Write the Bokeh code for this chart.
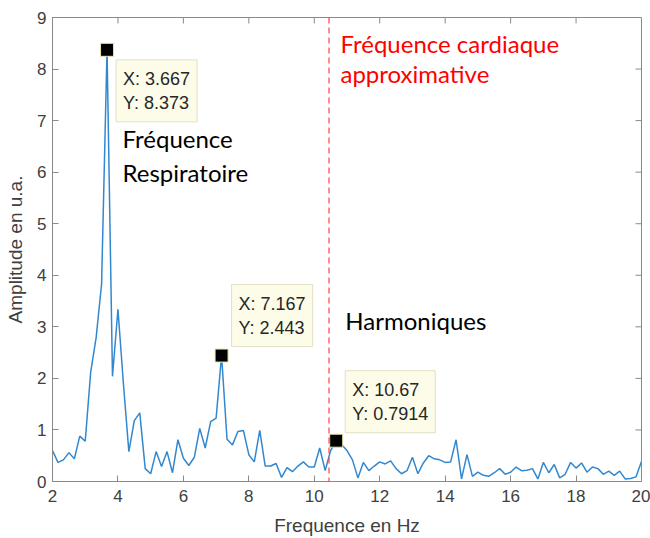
import numpy as np
from bokeh.plotting import figure
from bokeh.models import FixedTicker, Span, Label, Range1d, ColumnDataSource
from bokeh.embed import file_html
from bokeh.resources import INLINE

# ---- data ----
freq_start = 2.0
freq_bins_per_hz = 6
amplitude = [
    0.60, 0.37, 0.42, 0.56, 0.44, 0.88, 0.78, 2.12, 2.79, 3.83,
    8.373, 2.04, 3.34, 1.90, 0.58, 1.18, 1.33, 0.25, 0.15, 0.58,
    0.29, 0.58, 0.17, 0.81, 0.45, 0.31, 0.47, 1.03, 0.65, 1.16,
    1.23, 2.443, 0.82, 0.71, 0.97, 0.99, 0.52, 0.38, 0.99, 0.30,
    0.30, 0.35, 0.08, 0.27, 0.19, 0.30, 0.38, 0.28, 0.28, 0.65,
    0.21, 0.60, 0.7914, 0.72, 0.60, 0.42, 0.07, 0.37, 0.21, 0.30,
    0.38, 0.34, 0.40, 0.25, 0.15, 0.21, 0.47, 0.15, 0.36, 0.50,
    0.44, 0.42, 0.37, 0.38, 0.81, 0.05, 0.52, 0.10, 0.18, 0.12,
    0.10, 0.17, 0.25, 0.14, 0.18, 0.28, 0.21, 0.22, 0.25, 0.05,
    0.37, 0.17, 0.33, 0.07, 0.14, 0.37, 0.26, 0.36, 0.18, 0.28,
    0.25, 0.14, 0.20, 0.12, 0.20, 0.05, 0.06, 0.09, 0.39,
]
frequency = [freq_start + i / freq_bins_per_hz for i in range(len(amplitude))]

tip_x = [3.667, 7.167, 10.67]
tip_y = [8.373, 2.443, 0.7914]
tip_text = ["X: 3.667\nY: 8.373", "X: 7.167\nY: 2.443", "X: 10.67\nY: 0.7914"]

cardiac_freq = 10.45

x_min, x_max = 2, 20
y_min, y_max = 0, 9
x_ticks = [2, 4, 6, 8, 10, 12, 14, 16, 18, 20]
y_ticks = [0, 1, 2, 3, 4, 5, 6, 7, 8, 9]

# ---- figure ----
W, H = 650, 538
B_LEFT, B_RIGHT, B_TOP, B_BOTTOM = 52, 9, 17, 56
p = figure(width=W, height=H, output_backend="svg", toolbar_location=None,
           x_range=Range1d(x_min, x_max), y_range=Range1d(y_min, y_max),
           min_border_left=B_LEFT, min_border_right=B_RIGHT,
           min_border_top=B_TOP, min_border_bottom=B_BOTTOM)
p.background_fill_color = "white"
p.border_fill_color = "white"
p.xgrid.visible = False
p.ygrid.visible = False

axis_col = "#8a8a8a"
lab_col = "#404040"
font = "Liberation Sans"
p.outline_line_color = axis_col
p.outline_line_width = 1

for ax in (p.xaxis[0], p.yaxis[0]):
    ax.axis_line_color = axis_col
    ax.major_tick_line_color = axis_col
    ax.major_tick_in = 6
    ax.major_tick_out = 0
    ax.minor_tick_line_color = None
    ax.major_label_text_color = lab_col
    ax.major_label_text_font = font
    ax.major_label_text_font_size = "17px"
    ax.axis_label_text_font = font
    ax.axis_label_text_font_size = "19px"
    ax.axis_label_text_font_style = "normal"
    ax.axis_label_text_color = lab_col

p.xaxis[0].ticker = FixedTicker(ticks=x_ticks)
p.yaxis[0].ticker = FixedTicker(ticks=y_ticks)
p.xaxis[0].axis_label = "Frequence en Hz"
p.yaxis[0].axis_label = "Amplitude en u.a."
p.xaxis[0].major_label_standoff = 8
p.yaxis[0].major_label_standoff = 6
p.xaxis[0].axis_label_standoff = 10
p.yaxis[0].axis_label_standoff = 8

# inward ticks on top and right edges (MATLAB box style)
frame_w = W - B_LEFT - B_RIGHT
frame_h = H - B_TOP - B_BOTTOM
tick_px = 6
tlen_y = tick_px * (y_max - y_min) / frame_h
tlen_x = tick_px * (x_max - x_min) / frame_w
p.segment(x0=x_ticks, y0=[y_max] * len(x_ticks), x1=x_ticks,
          y1=[y_max - tlen_y] * len(x_ticks), line_color=axis_col, line_width=1)
p.segment(x0=[x_max] * len(y_ticks), y0=y_ticks, x1=[x_max - tlen_x] * len(y_ticks),
          y1=y_ticks, line_color=axis_col, line_width=1)

src = ColumnDataSource(dict(f=frequency, a=amplitude))
p.line("f", "a", source=src, line_color="#3288cf", line_width=1.5)

p.add_layout(Span(location=cardiac_freq, dimension="height", line_color="#ff4040",
                  line_dash="6 4", line_width=1.2))

tips = ColumnDataSource(dict(x=tip_x, y=tip_y))
p.scatter("x", "y", source=tips, marker="square", size=13, fill_color="black",
          line_color="#e8e6b0", line_width=1)

tip_style = dict(text_font=font, text_font_size="18px", text_color="#262626",
                 text_line_height=1.2, background_fill_color="#fcfce8",
                 border_line_color="#e2e0c4",
                 padding=dict(left=7, right=7, top=9, bottom=9))
p.add_layout(Label(x=tip_x[0], y=tip_y[0], x_offset=9, y_offset=-10, text=tip_text[0],
                   text_align="left", text_baseline="top", **tip_style))
p.add_layout(Label(x=tip_x[1], y=tip_y[1], x_offset=10, y_offset=9, text=tip_text[1],
                   text_align="left", text_baseline="bottom", **tip_style))
p.add_layout(Label(x=tip_x[2], y=tip_y[2], x_offset=9, y_offset=8, text=tip_text[2],
                   text_align="left", text_baseline="bottom", **tip_style))

ann_font = "Lato"
ann = dict(text_font=ann_font, text_font_size="24px", text_baseline="middle", text_align="left")
p.add_layout(Label(x=4.14, y=6.66, text="Fréquence", text_color="black", **ann))
p.add_layout(Label(x=4.14, y=6.0, text="Respiratoire", text_color="black", **ann))
p.add_layout(Label(x=10.95, y=3.12, text="Harmoniques", text_color="black", **ann))
p.add_layout(Label(x=10.80, y=8.49, text="Fréquence cardiaque", text_color="#ff0000", **ann))
p.add_layout(Label(x=10.80, y=7.92, text="approximative", text_color="#ff0000", **ann))

open("out.html", "w").write(file_html(p, INLINE))
